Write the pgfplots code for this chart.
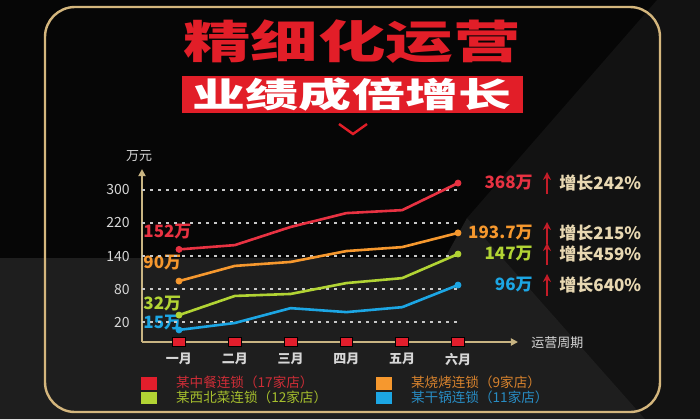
\documentclass[border=0pt]{standalone}
\usepackage{fontspec}
\setmainfont{Noto Sans CJK SC}
\usepackage{graphicx}
\usepackage{pgfplots}
\pgfplotsset{compat=1.18}
\usetikzlibrary{arrows.meta}
\definecolor{bgblack}{RGB}{6,6,6}
\definecolor{bggray}{RGB}{30,30,30}
\definecolor{bgmid}{RGB}{18,18,18}
\definecolor{gold}{RGB}{212,182,125}
\definecolor{axgold}{RGB}{200,180,130}
\definecolor{titlered}{RGB}{226,30,40}
\definecolor{cred}{RGB}{232,50,66}
\definecolor{corange}{RGB}{246,152,46}
\definecolor{cgreen}{RGB}{178,212,52}
\definecolor{cblue}{RGB}{28,166,228}
\definecolor{cream}{RGB}{232,216,178}
\definecolor{arrred}{RGB}{196,28,40}
\definecolor{lgray}{RGB}{215,215,215}
\definecolor{gridgray}{RGB}{200,200,200}
\definecolor{sqred}{RGB}{226,30,44}
\definecolor{lred}{RGB}{205,45,55}
\definecolor{lorange}{RGB}{215,130,45}
\definecolor{lgreen}{RGB}{165,190,45}
\definecolor{lblue}{RGB}{40,140,195}
\begin{document}
\begin{tikzpicture}
\begin{scope}[x=0.5pt,y=-0.5pt]
\fill[bgblack] (0,0) rectangle (700,419);
\fill[bgmid] (467,218) -- (657,0) -- (700,0) -- (700,419) -- (645,419) -- cycle;
\fill[bggray] (0,258) -- (445,258) -- (467,218) -- (645,419) -- (0,419) -- cycle;
\draw[gold, line width=1.2pt, rounded corners=15pt] (45,7) rectangle (660,412);
\node[font=\bfseries\fontsize{22.5}{22.5}\selectfont, text=titlered, inner sep=0pt] at (352,42) {\scalebox{1.5}[1]{精细化运营}};
\fill[titlered] (182,76) rectangle (523,113);
\node[font=\bfseries\fontsize{17}{17}\selectfont, text=white, inner sep=0pt] at (352,95) {\scalebox{1.56}[1]{业绩成倍增长}};
\draw[titlered, line width=1.2pt] (339,124) -- (353,134) -- (367,124);
\node[font=\fontsize{6.5}{6.5}\selectfont, text=lgray] at (139,156) {万元};
\node[font=\fontsize{6.5}{6.5}\selectfont, text=lgray, anchor=west, inner sep=0pt] at (531,343) {运营周期};
% left value labels
\begin{scope}[every node/.style={font=\bfseries\fontsize{8.5}{8.5}\selectfont, anchor=west, inner sep=0pt}]
\node[text=cred] at (143,232) {152万};
\node[text=corange] at (143,263) {90万};
\node[text=cgreen] at (143,304) {32万};
\node[text=cblue] at (143,323) {15万};
\end{scope}
% right value labels
\begin{scope}[every node/.style={font=\bfseries\fontsize{8.5}{8.5}\selectfont, inner sep=0pt}]
\node[text=cred, anchor=east] at (533,183) {368万};
\node[text=corange, anchor=east] at (533,233) {193.7万};
\node[text=cgreen, anchor=east] at (533,254) {147万};
\node[text=cblue, anchor=east] at (533,285) {96万};
\node[text=cream, anchor=west] at (559,183) {增长242\%};
\node[text=cream, anchor=west] at (559,233) {增长215\%};
\node[text=cream, anchor=west] at (559,254) {增长459\%};
\node[text=cream, anchor=west] at (559,285) {增长640\%};
\end{scope}
\foreach \yy in {183,233,254,285}{
  \draw[arrred, line width=0.9pt, -{Stealth[length=4pt,width=4pt]}] (547,\yy+11) -- (547,\yy-11);
}
\end{scope}
\begin{axis}[
  at={(71pt,-171pt)}, anchor=south west, scale only axis,
  width=188pt, height=86.5pt,
  xmin=-0.663, xmax=6.075, ymin=-0.606, ymax=4.636, clip=false,
  axis x line=bottom, axis y line=left,
  axis line style={axgold, line width=0.9pt, -{Triangle[length=3.5pt,width=3.5pt]}},
  xtick={0,...,5}, xticklabels={一月,二月,三月,四月,五月,六月},
  ytick={0,...,4}, yticklabels={20,80,140,220,300},
  major tick length=0pt,
  /pgf/number format/assume math mode=true,
  xticklabel style={font=\bfseries\fontsize{6.5}{6.5}\selectfont, text=lgray, anchor=north, inner sep=0pt, yshift=-5.5pt},
  yticklabel style={font=\fontsize{7}{7}\selectfont, text=lgray, anchor=east, inner sep=0pt, xshift=-6pt},
  legend style={at={(-0.003,-0.197)}, anchor=north west, draw=none, fill=none, inner sep=0pt,
    legend columns=2, nodes={inner sep=0.6pt, text height=5pt, text depth=1pt, font=\fontsize{6.8}{6.8}\selectfont},
    /tikz/every odd column/.append style={column sep=9pt},
    /tikz/every even column/.append style={column sep=0pt},
    row sep=0pt},
  legend cell align=left,
]
\pgfplotsinvokeforeach{0,...,4}{
  \draw[gridgray, dash pattern=on 1.5pt off 2.5pt, line width=0.6pt] (axis cs:-0.663,#1) -- (axis cs:5,#1);
}
\addplot[cred, line width=1.3pt, mark=*, mark indices={1,6}, mark size=1.5pt, mark options={line width=0.4pt},
  legend image code/.code={\fill[sqred] (0pt,-2.5pt) rectangle (6.5pt,2.5pt);}]
  coordinates {(0,2.20)(1,2.33)(2,2.88)(3,3.30)(4,3.39)(5,4.21)};
\addlegendentry{\makebox[99.5pt][l]{\textcolor{lred}{某中餐连锁（17家店）}}}
\addplot[corange, line width=1.3pt, mark=*, mark indices={1,6}, mark size=1.5pt, mark options={line width=0.4pt},
  legend image code/.code={\fill[corange] (0pt,-2.5pt) rectangle (6.5pt,2.5pt);}]
  coordinates {(0,1.24)(1,1.70)(2,1.82)(3,2.15)(4,2.27)(5,2.70)};
\addlegendentry{\makebox[99.5pt][l]{\textcolor{lorange}{某烧烤连锁（9家店）}}}
\addplot[cgreen, line width=1.3pt, mark=*, mark indices={1,6}, mark size=1.5pt, mark options={line width=0.4pt},
  legend image code/.code={\fill[cgreen] (0pt,-2.5pt) rectangle (6.5pt,2.5pt);}]
  coordinates {(0,0.21)(1,0.79)(2,0.85)(3,1.18)(4,1.33)(5,2.06)};
\addlegendentry{\makebox[99.5pt][l]{\textcolor{lgreen}{某西北菜连锁（12家店）}}}
\addplot[cblue, line width=1.3pt, mark=*, mark indices={1,6}, mark size=1.5pt, mark options={line width=0.4pt},
  legend image code/.code={\fill[cblue] (0pt,-2.5pt) rectangle (6.5pt,2.5pt);}]
  coordinates {(0,-0.24)(1,-0.03)(2,0.42)(3,0.30)(4,0.45)(5,1.12)};
\addlegendentry{\makebox[99.5pt][l]{\textcolor{lblue}{某干锅连锁（11家店）}}}
\addplot[only marks, mark=square*, mark size=3.2pt, mark options={fill=sqred, draw=none, yscale=0.72}, forget plot]
  coordinates {(0,-0.606)(1,-0.606)(2,-0.606)(3,-0.606)(4,-0.606)(5,-0.606)};
\end{axis}
\end{tikzpicture}
\end{document}
